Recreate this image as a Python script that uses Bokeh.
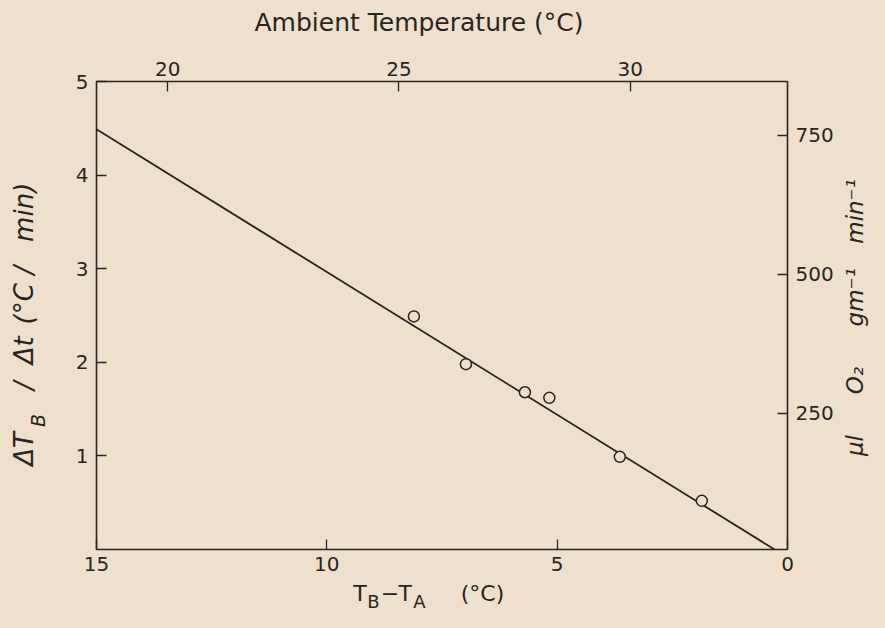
import math
from bokeh.plotting import figure
from bokeh.models import Range1d, LinearAxis, FixedTicker, ColumnDataSource, Plot
from bokeh.layouts import row, column
from bokeh.core.properties import value
from bokeh.embed import file_html
from bokeh.resources import INLINE

# ---- data ----
diff_temp = [8.11, 6.98, 5.70, 5.17, 3.64, 1.86]      # T_B - T_A (°C)
rate = [2.49, 1.98, 1.68, 1.62, 0.99, 0.52]           # ΔT_B/Δt (°C/min)
fit_x = [15.0, 0.28]
fit_y = [4.49, 0.0]

bottom_ticks = [15, 10, 5, 0]
left_ticks = [1, 2, 3, 4, 5]
top_ticks = [20, 25, 30]          # ambient temperature (°C)
right_ticks = [250, 500, 750]     # µl O2 gm^-1 min^-1

BG = "#eee0cd"
INK = "#2a2420"
FONT = "DejaVu Sans"
A90 = math.pi / 2
K = 0.38   # baseline correction (fraction of font size)

HAS_ALIGN = "frame_align" in Plot.properties()

# ---- main plot ----
p = figure(width=786, height=540, output_backend="svg", toolbar_location=None,
           x_range=Range1d(15, 0), y_range=Range1d(0, 5),
           x_axis_type=None, y_axis_type=None,
           min_border_left=46, min_border_right=47, min_border_top=41, min_border_bottom=31,
           background_fill_color=BG, border_fill_color=BG)
p.outline_line_color = INK
p.outline_line_width = 1.6
if HAS_ALIGN:
    p.frame_align = False

p.extra_x_ranges = {"amb": Range1d(18.46, 33.40)}
p.extra_y_ranges = {"o2": Range1d(5, 847)}


def style_axis(ax, ticks, standoff):
    ax.ticker = FixedTicker(ticks=ticks)
    ax.axis_line_color = None
    ax.major_tick_in = 10
    ax.major_tick_out = 0
    ax.minor_tick_line_color = None
    ax.major_tick_line_color = INK
    ax.major_tick_line_width = 1.3
    ax.major_label_text_font = FONT
    ax.major_label_text_font_size = "20px"
    ax.major_label_text_color = INK
    ax.major_label_standoff = standoff


bx = LinearAxis()
style_axis(bx, bottom_ticks, 7)
p.add_layout(bx, "below")

ly = LinearAxis()
style_axis(ly, left_ticks, 8)
p.add_layout(ly, "left")

tx = LinearAxis(x_range_name="amb")
style_axis(tx, top_ticks, 6)
p.add_layout(tx, "above")

ry = LinearAxis(y_range_name="o2")
style_axis(ry, right_ticks, 8)
p.add_layout(ry, "right")

p.line(fit_x, fit_y, line_color=INK, line_width=1.8)
src = ColumnDataSource(dict(x=diff_temp, y=rate))
p.scatter("x", "y", source=src, marker="circle", size=11, fill_color=BG,
          line_color=INK, line_width=1.5)


# ---- text panels around the plot (pixel coordinates) ----
def panel(w, h):
    f = figure(width=w, height=h, output_backend="svg", toolbar_location=None,
               x_range=Range1d(0, w), y_range=Range1d(0, h),
               x_axis_type=None, y_axis_type=None, min_border=0,
               background_fill_color=BG, border_fill_color=BG)
    f.outline_line_color = None
    if HAS_ALIGN:
        f.frame_align = False
    return f


def htexts(f, xs, base_ys, labels, size, align="left"):
    ys = [b + K * size for b in base_ys]
    f.text(x=xs, y=ys, text=labels, text_font=value(FONT),
           text_font_size=value(f"{size}px"), text_font_style=value("normal"),
           text_color=INK, text_align=align, text_baseline="alphabetic")


def vtexts(f, base_x, ys, labels, size):
    xs = [base_x - K * size] * len(ys)
    f.text(x=xs, y=ys, text=labels, angle=A90, text_font=value(FONT),
           text_font_size=value(f"{size}px"), text_font_style=value("italic"),
           text_color=INK, text_align="center", text_baseline="alphabetic")


top = panel(786, 40)
htexts(top, [204], [9], ["Ambient Temperature (°C)"], 25)

bottom = panel(786, 32)
htexts(bottom, [302.7, 348.0], [11, 11], ["T", "T"], 22)
htexts(bottom, [316.7, 362.7], [4.5, 4.5], ["B", "A"], 18)
htexts(bottom, [339.4, 432.0], [11, 11], ["−", "(°C)"], 22, align="center")

left = panel(50, 612)
vtexts(left, 33, [163.6, 227, 262.2, 308.7, 342.5, 400.2],
       ["ΔT", "/", "Δt", "(°C", "/", "min)"], 26)
vtexts(left, 45, [192], ["B"], 19)

right = panel(33, 612)
vtexts(right, 27, [167, 232, 315.3, 401.1], ["μl", "O₂", "gm⁻¹", "min⁻¹"], 23)

mid = column(top, p, bottom, styles={"background-color": BG})
layout = row(left, mid, right,
             styles={"background-color": BG, "box-shadow": f"0 0 0 24px {BG}"})

open("out.html", "w").write(file_html(layout, INLINE))
